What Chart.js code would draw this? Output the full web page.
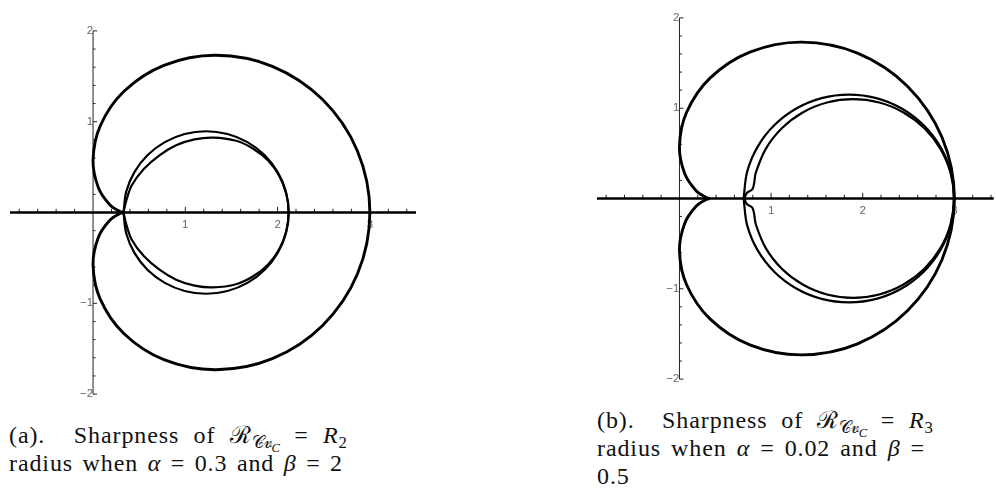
<!DOCTYPE html>
<html>
<head>
<meta charset="utf-8">
<script src="https://cdn.jsdelivr.net/npm/chart.js@4.4.1/dist/chart.umd.min.js"></script>
<style>
  body { margin: 0; background: #fff; width: 996px; height: 488px; overflow: hidden; position: relative; }
  canvas { position: absolute; }
  #plotA { left: 0; top: 18px; }
  #plotB { left: 587px; top: 5px; }
  .cap { position: absolute; font-family: 'Liberation Serif', 'Times New Roman', serif; font-size: 24px; letter-spacing: 0.9px; line-height: 28px; color: #111; }
  .cap div { text-align: justify; text-align-last: justify; white-space: nowrap; }
  .cap sub { font-size: 70%; vertical-align: -0.3em; line-height: 0; letter-spacing: 0; }
  .cap sub sub { font-size: 75%; vertical-align: -0.35em; }
</style>
</head>
<body>
<canvas id="plotA" width="426" height="389"></canvas>
<canvas id="plotB" width="409" height="387"></canvas>

<div class="cap" style="left:9px; top:421px;">
  <div style="width:338px">(a).&nbsp; Sharpness of ℛ<sub>𝒞𝓋<sub><i>C</i></sub></sub> = <i>R</i><sub>2</sub></div>
  <div style="width:334px">radius when <i>α</i> = 0.3 and <i>β</i> = 2</div>
</div>
<div class="cap" style="left:597px; top:406px;">
  <div style="width:336px">(b).&nbsp; Sharpness of ℛ<sub>𝒞𝓋<sub><i>C</i></sub></sub> = <i>R</i><sub>3</sub></div>
  <div style="width:328px">radius when <i>α</i> = 0.02 and <i>β</i> =</div>
  <div style="text-align:left; text-align-last:left">0.5</div>
</div>

<script>
// outer boundary, the same in both panels: from the cusp, down round (3,0) and back up to the cusp
var outerX = [0.333, 0.290, 0.179, 0.057, 0, 0.078, 0.333, 0.768, 1.333, 1.943, 2.488, 2.865, 3,
              2.865, 2.488, 1.943, 1.333, 0.768, 0.333, 0.078, 0, 0.057, 0.179, 0.290, 0.333];
var outerY = [0, -0.012, -0.089, -0.276, -0.577, -0.955, -1.333, -1.621, -1.732, -1.610, -1.244, -0.678, 0,
              0.678, 1.244, 1.610, 1.732, 1.621, 1.333, 0.955, 0.577, 0.276, 0.089, 0.012, 0];

// panel (a): the two inner closed curves
var a1X = [0.330, 0.360, 0.450, 0.592, 0.778, 0.993, 1.225, 1.457, 1.673, 1.858, 2.000, 2.090, 2.120,
           2.090, 2.000, 1.858, 1.673, 1.457, 1.225, 0.993, 0.778, 0.592, 0.450, 0.360, 0.330];
var a1Y = [0, -0.232, -0.448, -0.633, -0.775, -0.864, -0.895, -0.864, -0.775, -0.633, -0.448, -0.232, 0,
           0.232, 0.448, 0.633, 0.775, 0.864, 0.895, 0.864, 0.775, 0.633, 0.448, 0.232, 0];
var a2X = [0.33, 0.36, 0.42, 0.55, 0.72, 0.90, 1.10, 1.30, 1.55, 1.74, 1.90, 2.02, 2.095, 2.12,
           2.095, 2.02, 1.90, 1.74, 1.55, 1.30, 1.10, 0.90, 0.72, 0.55, 0.42, 0.36, 0.33];
var a2Y = [0, -0.13, -0.30, -0.48, -0.63, -0.74, -0.805, -0.825, -0.79, -0.70, -0.57, -0.40, -0.20, 0,
           0.20, 0.40, 0.57, 0.70, 0.79, 0.825, 0.805, 0.74, 0.63, 0.48, 0.30, 0.13, 0];

// panel (b): the two inner closed curves
var b1X = [0.700, 0.739, 0.854, 1.037, 1.275, 1.552, 1.850, 2.148, 2.425, 2.663, 2.846, 2.961, 3.000,
           2.961, 2.846, 2.663, 2.425, 2.148, 1.850, 1.552, 1.275, 1.037, 0.854, 0.739, 0.700];
var b1Y = [0, -0.298, -0.575, -0.813, -0.996, -1.111, -1.150, -1.111, -0.996, -0.813, -0.575, -0.298, 0,
           0.298, 0.575, 0.813, 0.996, 1.111, 1.150, 1.111, 0.996, 0.813, 0.575, 0.298, 0];
var b2X = [0.707, 0.735, 0.795, 0.815, 0.833, 0.942, 1.117, 1.345, 1.610, 1.895, 2.180, 2.445, 2.673, 2.848, 2.958, 2.995,
           2.958, 2.848, 2.673, 2.445, 2.180, 1.895, 1.610, 1.345, 1.117, 0.942, 0.833, 0.815, 0.795, 0.735, 0.707];
var b2Y = [0, -0.06, -0.10, -0.17, -0.285, -0.55, -0.778, -0.953, -1.063, -1.10, -1.063, -0.953, -0.778, -0.55, -0.285, 0,
           0.285, 0.55, 0.778, 0.953, 1.063, 1.10, 1.063, 0.953, 0.778, 0.55, 0.285, 0.17, 0.10, 0.06, 0];

// labelled ticks on the axes
var xTickLabels = [1, 2, 3];
var yTickLabels = [-2, -1, 1, 2];
var minorStep = 0.2;

function pts(xs, ys) {
  return xs.map(function (x, i) { return { x: x, y: ys[i] }; });
}

function curve(xs, ys, w) {
  return { data: pts(xs, ys), showLine: true, borderColor: '#000', borderWidth: w,
           pointRadius: 0, tension: 0.34, fill: false };
}

// every 0.2 along the scale, leaving out the origin
function minorTicks(scale) {
  var t = [];
  for (var k = Math.ceil(scale.min / minorStep - 1e-9); k * minorStep <= scale.max + 1e-9; k++) {
    if (k !== 0) t.push({ value: +(k * minorStep).toFixed(1) });
  }
  scale.ticks = t;
}

function labelFrom(list) {
  return function (v) {
    var r = Math.round(v * 10) / 10;
    if (list.indexOf(r) < 0) return '';
    return r < 0 ? '\u2212' + Math.abs(r) : String(r);
  };
}

// axes through the origin with small inward tick marks
var axesPlugin = {
  id: 'originAxes',
  beforeDatasetsDraw: function (chart) {
    var ctx = chart.ctx, xs = chart.scales.x, ys = chart.scales.y;
    var x0 = xs.getPixelForValue(0), y0 = ys.getPixelForValue(0);
    ctx.save();
    ctx.strokeStyle = '#222';
    ctx.lineWidth = 1;
    ctx.beginPath();
    ctx.moveTo(x0, ys.top);
    ctx.lineTo(x0, ys.bottom);
    ys.ticks.forEach(function (t) {
      var p = ys.getPixelForValue(t.value);
      var len = Number.isInteger(t.value) ? 4 : 2.5;
      ctx.moveTo(x0, p);
      ctx.lineTo(x0 + len, p);
    });
    xs.ticks.forEach(function (t) {
      var p = xs.getPixelForValue(t.value);
      var len = Number.isInteger(t.value) ? 4.5 : 2.5;
      ctx.moveTo(p, y0);
      ctx.lineTo(p, y0 - 1.2 - len);
    });
    ctx.stroke();
    ctx.strokeStyle = '#000';
    ctx.lineWidth = 2.6;
    ctx.beginPath();
    ctx.moveTo(xs.left, y0);
    ctx.lineTo(xs.right, y0);
    ctx.stroke();
    ctx.restore();
  }
};

function makePlot(id, datasets, xMin, xMax, pad) {
  var tickFont = { family: 'Liberation Sans', size: 11.5 };
  return new Chart(document.getElementById(id), {
    type: 'scatter',
    data: { datasets: datasets },
    plugins: [axesPlugin],
    options: {
      responsive: false,
      animation: false,
      events: [],
      layout: { padding: pad },
      plugins: { legend: { display: false }, tooltip: { enabled: false } },
      scales: {
        x: {
          type: 'linear', min: xMin, max: xMax, position: { y: 0 },
          grid: { display: false, drawTicks: false }, border: { display: false },
          afterBuildTicks: minorTicks,
          ticks: { autoSkip: false, maxRotation: 0, padding: 5, color: '#666', font: tickFont,
                   callback: labelFrom(xTickLabels) }
        },
        y: {
          type: 'linear', min: -2, max: 2, position: { x: 0 },
          grid: { display: false, drawTicks: false }, border: { display: false },
          afterBuildTicks: minorTicks,
          ticks: { autoSkip: false, padding: 6, color: '#666', font: tickFont,
                   callback: labelFrom(yTickLabels) }
        }
      }
    }
  });
}

makePlot('plotA', [
  curve(outerX, outerY, 2.9),
  curve(a1X, a1Y, 2.2),
  curve(a2X, a2Y, 2.2)
], -0.9, 3.5, { left: 10, right: 10, top: 10, bottom: 10 });

makePlot('plotB', [
  curve(outerX, outerY, 2.9),
  curve(b1X, b1Y, 2.2),
  curve(b2X, b2Y, 2.2)
], -0.9, 3.43, { left: 10, right: 0, top: 10, bottom: 10 });
</script>
</body>
</html>
